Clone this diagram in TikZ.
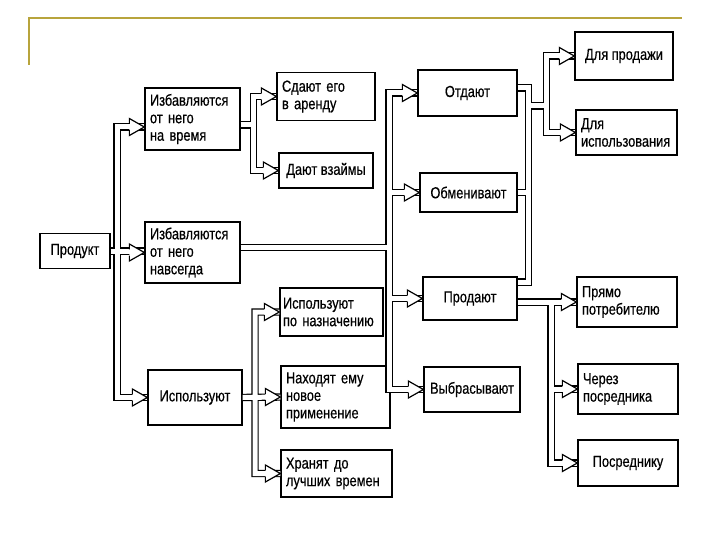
\documentclass[tikz,border=0pt]{standalone}
\usepackage{fontspec}
\newfontfamily\boxfont[FakeStretch=0.8, FakeBold=0.5]{Liberation Sans}
\usetikzlibrary{calc}
\definecolor{frameline}{RGB}{184,164,60}
\hyphenpenalty=10000
\exhyphenpenalty=10000

% hollow arrow head, apex at #1, open towards the pipe
\newcommand{\arrowhead}[1]{%
  \filldraw[fill=white, line width=1.2pt, line join=miter]
    ($(#1)+(-15,3.1)$) -- ++(0,5.4) -- (#1) -- ++(-15,-8.5) -- ++(0,5.4);}

\begin{document}
\begin{tikzpicture}[x=1pt, y=-1pt,
  frame box/.style={draw, line width=1.3pt, inner ysep=3pt,
    font=\boxfont\fontsize{16}{17.5}\selectfont},
  box/.style={frame box, inner xsep=5pt, text width=#1, align=left},
  cbox/.style={frame box, minimum width=#1, align=center},
  pipe/.style={draw, double=white, double distance=5pt, line width=1.2pt},
  rule/.style={draw=frameline, line width=2.5pt},
]
  \useasboundingbox (0,0) rectangle (720,540);

  % slide frame
  \draw[rule] (29,65) -- (29,18) -- (682,18);

  \node[cbox=70pt, minimum height=35pt] (prod) at (75,251) {Продукт};
  \node[box=85pt, minimum height=62pt] (tmp) at (192.5,119) {Избавляются\\от него\\на время};
  \node[box=85pt, minimum height=61pt] (perm) at (192.5,252.5) {Избавляются\\от него\\навсегда};
  \node[cbox=94pt, minimum height=55pt] (use) at (195,397.5) {Используют};

  \node[box=88pt, minimum height=48pt] (rent) at (326,96.5) {Сдают его\\в аренду};
  \node[cbox=94pt, minimum height=35pt] (lend) at (326,170.5) {Дают взаймы};
  \node[box=97pt, inner xsep=3pt, minimum height=48pt] (purp) at (331.5,312) {Используют\\по назначению};
  \node[box=99pt, minimum height=62pt] (newuse) at (335.5,397) {Находят ему\\новое\\применение};
  \node[box=101pt, minimum height=47pt] (keep) at (336.5,473.5) {Хранят до\\лучших времен};

  \node[cbox=99pt, minimum height=46pt] (give) at (467.5,93) {Отдают};
  \node[cbox=97pt, minimum height=39pt] (swap) at (468.5,192.5) {Обменивают};
  \node[cbox=94pt, minimum height=43pt] (sell) at (470,298.5) {Продают};
  \node[cbox=96pt, minimum height=45pt] (dump) at (472,389.5) {Выбрасывают};

  \node[cbox=98pt, minimum height=48pt] (forsale) at (624,56) {Для продажи};
  \node[box=91pt, minimum height=45pt] (foruse) at (626.5,132.5) {Для\\использования};
  \node[box=90pt, minimum height=50pt] (direct) at (627,302) {Прямо\\потребителю};
  \node[box=90pt, minimum height=50pt] (via) at (628,389) {Через\\посредника};
  \node[cbox=100pt, minimum height=46pt] (agent) at (628,463) {Посреднику};

  % trunk positions
  \coordinate (tA) at (117,0);
  \coordinate (tB) at (253.5,0);
  \coordinate (tC) at (389,0);
  \coordinate (tD) at (255,0);
  \coordinate (tE) at (528.5,0);
  \coordinate (tF) at (546.5,0);
  \coordinate (tG) at (551,0);
  \coordinate (tmpIn) at ([yshift=-8pt]tmp.west);
  \coordinate (tmpOut) at ([yshift=-6pt]tmp.east);
  \coordinate (permOut) at ([yshift=5pt]perm.east);
  \coordinate (giveOut) at ([yshift=5pt]give.east);
  \coordinate (sellUp) at ([yshift=16.5pt]sell.east);

  % double-line pipes
  \draw[pipe] (tmpIn) -| (tA |- use.west) -- (use.west)
    (prod.east) -- (prod.east -| perm.west);
  \draw[pipe] (rent.west) -| (tB |- lend.west) -- (lend.west)
    (tmpOut) -- (tmpOut -| tB);
  \draw[pipe] (give.west) -| (tC |- dump.west) -- (dump.west)
    (permOut) -- (permOut -| tC)
    (swap.west) -- (swap.west -| tC)
    (sell.west) -- (sell.west -| tC);
  \draw[pipe] (purp.west) -| (tD |- keep.west) -- (keep.west)
    (use.east) -- (newuse.west);
  \draw[pipe] (giveOut) -| (tE |- sellUp) -- (sellUp)
    (swap.east) -- (swap.east -| tE)
    (tE |- 0,106) -- (tF |- 0,106)
    (forsale.west) -| (tF |- foruse.west) -- (foruse.west);
  \draw[pipe] (sell.east |- direct.west) -- (direct.west)
    (tG |- direct.west) |- (agent.west)
    (tG |- via.west) -- (via.west);

  \foreach \t in {tmpIn, perm.west, use.west, rent.west, lend.west,
    purp.west, newuse.west, keep.west, give.west, swap.west, sell.west,
    dump.west, forsale.west, foruse.west, direct.west, via.west, agent.west}
    \arrowhead{\t};
\end{tikzpicture}
\end{document}
